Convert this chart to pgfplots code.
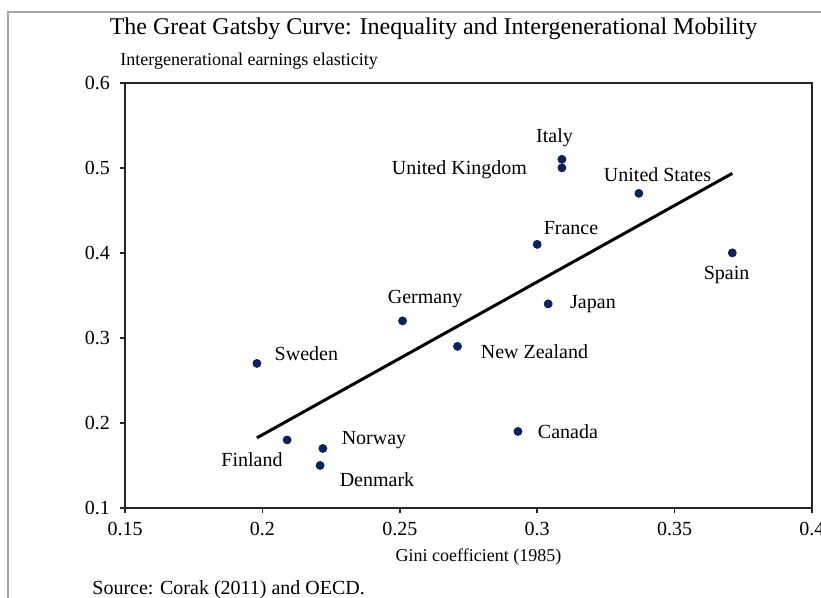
\documentclass[border=0pt]{standalone}
\usepackage{fontspec}
\setmainfont{Liberation Serif}
\usepackage{pgfplots}
\pgfplotsset{compat=1.18}
\definecolor{dotblue}{RGB}{12,34,94}
\begin{document}
\begin{tikzpicture}
\clip (-62.5pt,-45pt) rectangle (348pt,254pt);
\draw[black!35, line width=1pt] (-58.5pt,-46pt) -- (-58.5pt,248pt) -- (349pt,248pt);
\begin{axis}[at={(0,0)}, anchor=south west, scale only axis,
  width=343.5pt, height=212.6pt,
  xmin=0.15, xmax=0.4, ymin=0.1, ymax=0.6,
  xtick={0.15,0.2,0.25,0.3,0.35,0.4},
  ytick={0.1,0.2,0.3,0.4,0.5,0.6},
  tick align=outside, xtick pos=bottom, ytick pos=left,
  major tick length=2.5pt,
  axis line style={line width=0.75pt, black!85},
  tick style={line width=0.75pt, black!85},
  ticklabel style={font=\fontsize{10}{12}\selectfont},
  yticklabel style={xshift=-1.5pt},
  xticklabel style={yshift=-1pt},
  /pgf/number format/assume math mode=true,
  /pgf/number format/fixed,
  clip=false]
\addplot[only marks, mark=*, mark size=2pt, dotblue] coordinates {
  (0.198,0.27) (0.209,0.18) (0.222,0.17) (0.221,0.15)
  (0.251,0.32) (0.271,0.29) (0.293,0.19) (0.300,0.41)
  (0.304,0.34) (0.309,0.51) (0.309,0.50) (0.337,0.47) (0.371,0.40)
};
\addplot[black, line width=1.5pt] coordinates {(0.198,0.1825) (0.371,0.4935)};
\begin{scope}[every node/.style={font=\fontsize{10}{12}\selectfont, inner sep=0pt}]
\node at (axis cs:0.3063,0.535) {Italy};
\node at (axis cs:0.2717,0.4974) {United Kingdom};
\node at (axis cs:0.3438,0.4915) {United States};
\node at (axis cs:0.3123,0.4293) {France};
\node at (axis cs:0.3689,0.374) {Spain};
\node at (axis cs:0.2592,0.3458) {Germany};
\node at (axis cs:0.3203,0.340) {Japan};
\node at (axis cs:0.2160,0.2812) {Sweden};
\node at (axis cs:0.2990,0.2836) {New Zealand};
\node at (axis cs:0.3112,0.1895) {Canada};
\node at (axis cs:0.2406,0.1801) {Norway};
\node at (axis cs:0.1962,0.1567) {Finland};
\node at (axis cs:0.2417,0.1331) {Denmark};
\end{scope}
\end{axis}
\node[font=\fontsize{12}{14}\selectfont, inner sep=0pt] at (154.25pt,239.5pt) {The Great Gatsby Curve: Inequality and Intergenerational Mobility};
\node[font=\fontsize{9}{11}\selectfont, inner sep=0pt, anchor=west] at (-2.5pt,223.5pt) {Intergenerational earnings elasticity};
\node[font=\fontsize{9}{11}\selectfont, inner sep=0pt] at (176.75pt,-24.5pt) {Gini coefficient (1985)};
\node[font=\fontsize{10}{12}\selectfont, inner sep=0pt, anchor=west] at (-16.5pt,-41pt) {Source: Corak (2011) and OECD.};
\end{tikzpicture}
\end{document}
